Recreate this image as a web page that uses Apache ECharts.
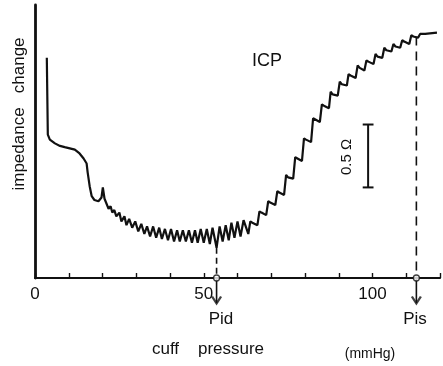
<!DOCTYPE html>
<html>
<head>
<meta charset="utf-8">
<script src="https://cdn.jsdelivr.net/npm/echarts@6/dist/echarts.min.js"></script>
<style>
html,body{margin:0;padding:0;background:#fff;}
#chart{width:443px;height:366px;}
</style>
</head>
<body>
<div id="chart"></div>
<script>
// cuff pressure (mmHg), impedance change (ohm)
const shoulderCurve = [
  [3.5,1.75],[3.8,1.14],[4.4,1.10],[5.9,1.07],[7.4,1.05],[8.8,1.04],[10.3,1.03],
  [11.8,1.02],[13.2,0.99],[14.4,0.95],[15.3,0.91],[15.6,0.84],[16.2,0.73],[16.8,0.65],
  [17.6,0.62],[18.8,0.61],[19.7,0.64],[20.1,0.72],[20.6,0.63],[21.2,0.59],[21.8,0.55],
  [22.4,0.57],[22.9,0.52],[23.5,0.54],[24.1,0.49],[25.0,0.52],[25.6,0.45],[26.5,0.49],[27.1,0.42]
];
const plateauCurve = [
  [27.9,0.47],[28.8,0.40],[29.7,0.45],[30.6,0.37],[31.5,0.43],[32.4,0.35],[33.2,0.41],
  [34.1,0.33],[35.0,0.41],[35.9,0.32],[36.8,0.40],[37.6,0.31],[38.5,0.39],[39.4,0.30],
  [40.3,0.39],[41.2,0.29],[42.1,0.38],[42.9,0.29],[43.8,0.38],[44.7,0.29],[45.6,0.38],
  [46.5,0.28],[47.4,0.38],[48.2,0.28],[49.1,0.39],[50.0,0.28],[50.9,0.39],[51.8,0.27],
  [52.6,0.40],[53.8,0.24],[54.7,0.41],[55.6,0.29],[56.5,0.42],[57.4,0.30],[58.2,0.44],
  [59.1,0.32],[60.0,0.45],[60.9,0.33],[61.8,0.46]
];
const riseCurve = [
  [63.2,0.35],[63.8,0.45],[64.4,0.44],
  [65.9,0.42],[66.5,0.53],[67.1,0.52],
  [68.5,0.50],[69.1,0.61],[69.7,0.60],
  [71.2,0.58],[71.8,0.69],[72.4,0.68],
  [73.8,0.66],[74.4,0.82],[75.0,0.80],
  [76.5,0.79],[77.1,0.96],[77.6,0.95],
  [79.1,0.93],[79.7,1.11],[80.3,1.10],
  [81.8,1.08],[82.4,1.27],[82.9,1.26],
  [84.4,1.24],[85.0,1.38],[85.6,1.37],
  [87.1,1.35],[87.6,1.48],[88.2,1.46],
  [89.7,1.45],[90.3,1.56],[90.9,1.54],
  [92.4,1.53],[92.9,1.62],[93.5,1.61],
  [95.0,1.59],[95.6,1.69],[96.2,1.67],
  [97.6,1.65],[98.2,1.73],[98.8,1.72],
  [100.3,1.70],[100.9,1.78],[101.5,1.76],
  [102.9,1.75],[103.5,1.83],[104.1,1.81],
  [105.6,1.80],[106.2,1.86],[106.8,1.84],
  [108.2,1.83],[108.8,1.89],[109.4,1.88],
  [110.9,1.86],[111.5,1.93],[112.1,1.92],
  [113.5,1.91],[114.1,1.94],[115.6,1.94],[119.1,1.95]
];
const xTicks = [0,10,20,30,40,50,60,70,80,90,100,110,120];
const xTickLabels = ['0','50','100'];
const pid = {x:53.8, y:0.24};
const pis = {x:113.0, y:1.92};
const scaleBar = {x:98.7, top:1.22, bottom:0.72, half:1.6};
const arrowTip = -0.2;

const curve = shoulderCurve.concat(plateauCurve, riseCurve);
const black = '#111';
const FONT = 'Liberation Sans, Arial, sans-serif';

function seg(data, extra){
  return Object.assign({
    type:'line', data:data, showSymbol:false, symbol:'none', silent:true,
    clip:false, z:3,
    lineStyle:{color:black, width:1.6}
  }, extra||{});
}

const chart = echarts.init(document.getElementById('chart'), null, {renderer:'canvas'});
chart.setOption({
  animation:false,
  backgroundColor:'#fff',
  grid:{left:35, right:0, top:5, bottom:88},
  xAxis:{
    type:'value', min:0, max:120, interval:10,
    axisLine:{show:true, onZero:false, lineStyle:{color:black, width:2.2}},
    axisTick:{show:true, inside:true, length:5, lineStyle:{color:black, width:1.4}},
    splitLine:{show:false},
    axisLabel:{
      margin:8, color:black, fontSize:17, fontFamily:FONT,
      formatter: v => xTickLabels.indexOf(String(v)) >= 0 ? String(v) : ''
    }
  },
  yAxis:{
    type:'value', min:0, max:2.17,
    axisLine:{show:true, onZero:false, lineStyle:{color:black, width:2.8}},
    axisTick:{show:false}, axisLabel:{show:false}, splitLine:{show:false}
  },
  series:[
    seg(curve, {lineStyle:{color:black, width:2.2}, z:5}),
    // Pid marker
    seg([[pid.x,pid.y],[pid.x,0]], {lineStyle:{color:black, width:1.6, type:[6,4]}}),
    seg([[pid.x,0],[pid.x,arrowTip]], {lineStyle:{color:black, width:1.6}}),
    // Pis marker
    seg([[pis.x,pis.y],[pis.x,0]], {lineStyle:{color:black, width:1.6, type:[9,6]}}),
    seg([[pis.x,0],[pis.x,arrowTip]], {lineStyle:{color:black, width:1.6}}),
    {
      type:'scatter', silent:true, clip:false, z:6,
      data:[[pid.x,0],[pis.x,0]],
      symbol:'circle', symbolSize:6,
      itemStyle:{color:'#fff', borderColor:black, borderWidth:1.3}
    },
    {
      type:'scatter', silent:true, clip:false, z:6,
      data:[[pid.x,arrowTip+0.025],[pis.x,arrowTip+0.025]],
      symbol:'path://M0,0L5,6L10,0', symbolSize:[9,7],
      itemStyle:{color:'rgba(0,0,0,0)', borderColor:black, borderWidth:2}
    },
    // 0.5 ohm scale bar
    seg([[scaleBar.x,scaleBar.top],[scaleBar.x,scaleBar.bottom]], {lineStyle:{color:black, width:2}}),
    seg([[scaleBar.x-scaleBar.half,scaleBar.top],[scaleBar.x+scaleBar.half,scaleBar.top]], {lineStyle:{color:black, width:2}}),
    seg([[scaleBar.x-scaleBar.half,scaleBar.bottom],[scaleBar.x+scaleBar.half,scaleBar.bottom]], {lineStyle:{color:black, width:2}})
  ],
  graphic:[
    {type:'text', x:19, y:114, rotation:Math.PI/2,
      style:{text:'impedance   change', fontSize:17, fontFamily:FONT, fill:black, align:'center', verticalAlign:'middle'}},
    {type:'text', x:267, y:61,
      style:{text:'ICP', fontSize:18, fontFamily:FONT, fill:black, align:'center', verticalAlign:'middle'}},
    {type:'text', x:347, y:157, rotation:Math.PI/2,
      style:{text:'0.5 Ω', fontSize:15, fontFamily:FONT, fill:black, align:'center', verticalAlign:'middle'}},
    {type:'text', x:221, y:319,
      style:{text:'Pid', fontSize:17, fontFamily:FONT, fill:black, align:'center', verticalAlign:'middle'}},
    {type:'text', x:415, y:319,
      style:{text:'Pis', fontSize:17, fontFamily:FONT, fill:black, align:'center', verticalAlign:'middle'}},
    {type:'text', x:208, y:349,
      style:{text:'cuff    pressure', fontSize:17, fontFamily:FONT, fill:black, align:'center', verticalAlign:'middle'}},
    {type:'text', x:370, y:354,
      style:{text:'(mmHg)', fontSize:14, fontFamily:FONT, fill:black, align:'center', verticalAlign:'middle'}}
  ]
});
</script>
</body>
</html>
